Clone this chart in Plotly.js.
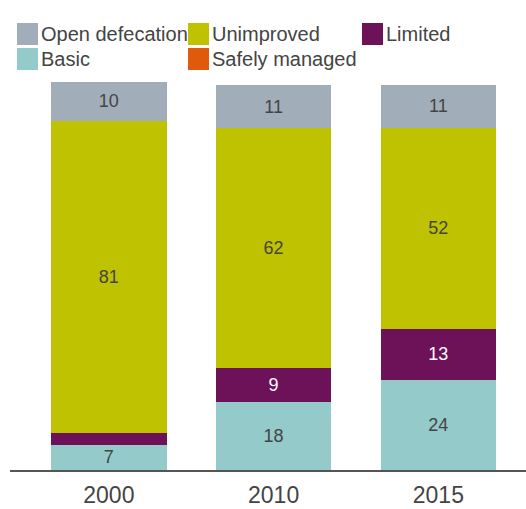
<!DOCTYPE html>
<html><head><meta charset="utf-8">
<script src="https://cdn.plot.ly/plotly-3.0.1.min.js"></script>
<style>html,body{margin:0;padding:0;background:#fff}#chart{width:526px;height:509px}</style>
</head><body><div id="chart"></div>
<script>
const years = ['2000', '2010', '2015'];
const basic = [6.6, 17.6, 23.5];
const limited = [2.9, 9.0, 13.1];
const unimproved = [81.3, 62.2, 52.3];
const openDefecation = [10.1, 11.2, 11.1];
const safelyManaged = [0, 0, 0];

const seriesNames = ['Basic', 'Limited', 'Unimproved', 'Open defecation', 'Safely managed'];
const seriesValues = [basic, limited, unimproved, openDefecation, safelyManaged];
const seriesColors = ['#94cac9', '#6d1159', '#bfc200', '#a2adba', '#e05a0b'];
const labelColors = ['#444444', '#ffffff', '#444444', '#444444', '#444444'];
const legendOrder = ['Open defecation', 'Unimproved', 'Limited', 'Basic', 'Safely managed'];

const FONT = 'Liberation Sans, Arial, sans-serif';

const traces = seriesNames.map((name, i) => ({
  type: 'bar',
  name: name,
  x: years,
  y: seriesValues[i],
  text: seriesValues[i].map(v => v >= 5 ? String(Math.round(v)) : ''),
  textposition: 'inside',
  insidetextanchor: 'middle',
  textangle: 0,
  constraintext: 'none',
  textfont: {family: FONT, size: 18, color: labelColors[i]},
  marker: {color: seriesColors[i], line: {width: 0}},
  hoverinfo: 'name+y',
  showlegend: false
}));

// Custom legend (pixel layout converted to paper coordinates)
const L = 10, T = 67, W = 516, H = 403;
const px = x => (x - L) / W;
const py = y => (T + H - y) / H;
const legendPos = [[17, 23], [188, 23], [362, 23], [17, 48], [188, 48]];
const shapes = [], annotations = [];
legendOrder.forEach((name, k) => {
  const i = seriesNames.indexOf(name);
  const [x0, y0] = legendPos[k];
  shapes.push({type: 'rect', xref: 'paper', yref: 'paper',
    x0: px(x0), x1: px(x0 + 21), y0: py(y0 + 22), y1: py(y0),
    fillcolor: seriesColors[i], line: {width: 0}});
  annotations.push({xref: 'paper', yref: 'paper', x: px(x0 + 22), y: py(y0 + 11),
    xanchor: 'left', yanchor: 'middle', showarrow: false, text: name,
    font: {family: FONT, size: 20, color: '#444444'}});
});

const layout = {
  width: 526, height: 509,
  margin: {l: L, r: 0, t: T, b: 509 - T - H, pad: 0},
  paper_bgcolor: '#ffffff', plot_bgcolor: '#ffffff',
  barmode: 'stack', bargap: 0.3,
  font: {family: FONT, color: '#444444'},
  showlegend: false,
  xaxis: {type: 'category', range: [-0.6, 2.532], showline: true, linecolor: '#555555', linewidth: 2,
    ticks: '', ticklabelstandoff: 3, tickfont: {family: FONT, size: 23, color: '#444444'},
    showgrid: false, zeroline: false, fixedrange: true},
  yaxis: {range: [0, 104.7], visible: false, showgrid: false, zeroline: false, fixedrange: true},
  shapes: shapes,
  annotations: annotations
};

Plotly.newPlot('chart', traces, layout, {displayModeBar: false, staticPlot: true});
</script>
</body></html>
